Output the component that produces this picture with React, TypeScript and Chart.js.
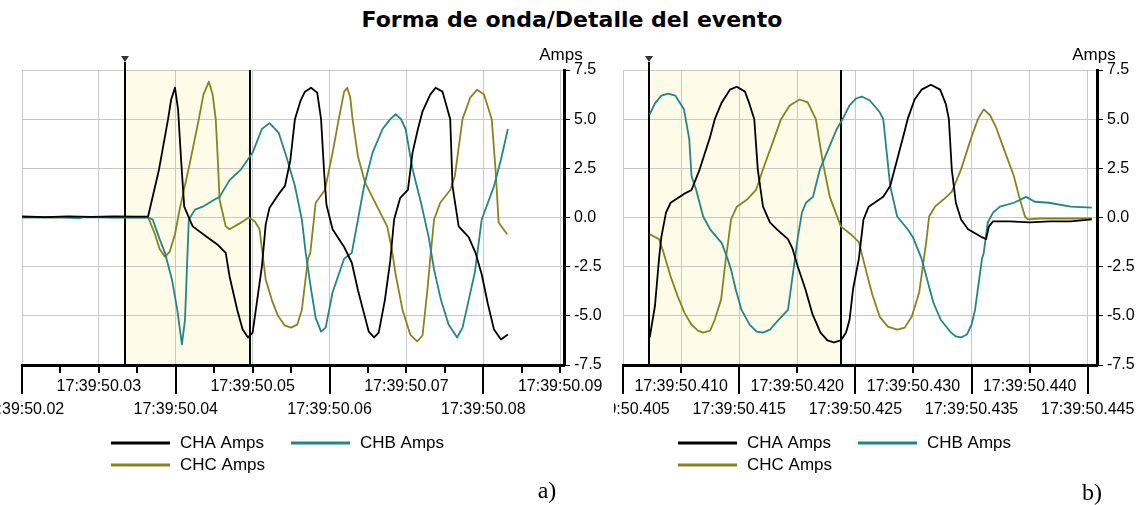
import React, { useEffect, useRef } from "react";
import { Chart, registerables } from "chart.js";
Chart.register(...registerables);

// ---------- data: [ms after 17:39:50.000, amps] ----------
const CHA_A: [number, number][] = [
  [20, 0.05], [23, 0.02], [26, 0.06], [29, 0.03], [32, 0.05], [35, 0.04], [36.4, 0.05], [37.8, 2.4], [39.0, 5.0], [39.4, 6.0],
  [39.9, 6.6], [40.3, 5.5], [40.7, 2.9], [41.1, 0.55], [42.2, -0.45], [44.1, -1.0], [45.5, -1.4], [46.5, -1.8], [47.0, -3.0],
  [48.0, -4.7], [48.7, -5.7], [49.4, -6.1], [50.0, -5.85], [51.2, -2.5], [51.7, -0.35], [52.2, 0.5], [53.4, 1.2], [54.2, 1.6],
  [54.9, 2.9], [55.5, 5.0], [56.2, 5.9], [56.8, 6.4], [57.6, 6.6], [58.4, 6.35], [58.9, 5.0], [59.3, 2.3], [59.6, 0.65],
  [60.4, -0.6], [61.9, -1.5], [62.9, -2.3], [63.7, -3.7], [64.5, -4.9], [65.1, -5.8], [65.8, -6.1], [66.4, -5.85], [67.2, -4.2],
  [67.9, -2.2], [68.4, -0.1], [69.2, 1.0], [70.2, 1.4], [70.8, 3.3], [71.5, 4.5], [72.1, 5.4], [73.1, 6.25], [73.8, 6.6],
  [74.7, 6.4], [75.7, 5.0], [76.0, 1.6], [76.8, -0.45], [78.1, -1.0], [79.0, -1.8], [79.8, -2.9], [80.6, -4.4], [81.4, -5.7],
  [82.3, -6.2], [83.2, -5.95],
];
const CHB_A: [number, number][] = [
  [20, 0.0], [24, 0.02], [27.5, -0.03], [28, 0.02], [32, 0.0], [36.4, 0.0], [37.0, -0.1], [37.9, -1.1], [38.6, -1.8],
  [39.5, -3.15], [40.2, -4.7], [40.8, -6.45], [41.2, -5.2], [41.5, -2.1], [41.7, -0.1], [42.5, 0.4], [43.5, 0.55], [45.0, 0.9],
  [45.7, 1.05], [47.0, 1.9], [48.5, 2.45], [50.0, 3.3], [51.2, 4.5], [52.2, 4.8], [53.4, 4.3], [54.5, 2.95], [55.5, 1.6],
  [56.4, -0.1], [56.9, -1.8], [57.6, -3.65], [58.2, -5.1], [58.9, -5.8], [59.5, -5.6], [60.4, -3.8], [61.9, -2.1], [62.9, -1.8],
  [63.7, -0.1], [64.5, 1.6], [65.6, 3.3], [66.9, 4.5], [67.9, 5.0], [68.6, 5.25], [69.3, 5.0], [69.9, 4.5], [70.8, 2.45],
  [71.9, 0.75], [72.9, -1.0], [73.6, -2.65], [74.5, -4.2], [75.5, -5.45], [76.6, -6.1], [77.3, -5.6], [78.1, -4.2], [78.9, -2.8],
  [79.8, -0.1], [81.4, 1.6], [82.3, 2.95], [83.2, 4.5],
];
const CHC_A: [number, number][] = [
  [20, 0.02], [24, 0.0], [28, 0.03], [32, 0.01], [36.4, 0.02], [37.3, -0.85], [37.9, -1.6], [38.6, -2.0], [39.2, -1.75],
  [39.9, -0.85], [40.5, 0.4], [41.8, 2.7], [43.0, 5.0], [43.6, 6.25], [44.3, 6.9], [44.8, 6.25], [45.2, 5.0], [45.5, 2.7],
  [45.7, 0.9], [46.5, -0.45], [47.0, -0.6], [48.3, -0.3], [49.5, 0.0], [50.3, -0.2], [50.9, -0.6], [51.7, -3.15], [52.5, -4.2],
  [53.3, -5.0], [54.2, -5.5], [55.0, -5.6], [55.8, -5.45], [56.4, -4.7], [57.2, -2.1], [57.5, -1.8], [58.2, 0.75], [59.4, 1.4],
  [60.4, 3.3], [61.2, 5.0], [61.9, 6.4], [62.3, 6.6], [62.7, 6.1], [63.0, 5.0], [63.7, 3.1], [64.6, 1.8], [66.2, 0.55],
  [67.5, -0.45], [68.1, -1.6], [68.6, -2.9], [69.5, -4.7], [70.5, -5.95], [71.4, -6.3], [72.1, -6.0], [72.7, -3.8], [73.1, -2.1],
  [73.6, -0.1], [74.4, 0.75], [75.7, 1.4], [76.3, 2.1], [77.3, 5.0], [78.3, 6.1], [79.2, 6.5], [80.1, 6.25], [81.1, 5.0],
  [81.6, 2.4], [82.0, -0.25], [83.1, -0.85],
];

const CHA_B: [number, number][] = [
  [407.3, -6.1], [407.75, -4.5], [408.1, -2.1], [408.3, -1.0], [408.7, 0.25], [409.1, 0.75], [410.25, 1.2], [410.9, 1.4],
  [411.6, 2.45], [412.5, 4.1], [412.9, 5.0], [413.5, 5.85], [414.2, 6.5], [414.8, 6.65], [415.5, 6.4], [415.9, 5.75], [416.3, 5.0],
  [416.6, 2.45], [417.05, 0.55], [417.65, -0.25], [418.25, -0.6], [419.2, -1.1], [419.6, -1.6], [420.05, -2.5], [420.7, -3.65],
  [421.3, -4.9], [422.0, -5.85], [422.6, -6.25], [423.15, -6.35], [423.75, -6.25], [424.2, -5.85], [424.5, -5.2], [424.8, -3.65],
  [425.3, -2.1], [425.7, -0.1], [426.15, 0.55], [427.4, 1.05], [428.0, 1.6], [428.6, 2.95], [429.2, 4.3], [429.5, 5.0],
  [430.1, 6.0], [430.7, 6.5], [431.5, 6.75], [432.3, 6.5], [432.8, 5.75], [433.05, 5.0], [433.3, 2.45], [433.65, 0.75],
  [434.1, -0.1], [434.7, -0.6], [435.9, -1.0], [436.25, -1.1], [436.5, -0.45], [436.85, -0.2], [438.3, -0.2], [440.0, -0.25],
  [441.75, -0.2], [443.55, -0.2], [445.35, -0.1],
];
const CHB_B: [number, number][] = [
  [407.3, 5.25], [407.75, 5.8], [408.3, 6.2], [408.9, 6.3], [409.5, 6.2], [410.25, 5.5], [410.7, 4.0], [410.9, 2.1], [411.3, 1.4],
  [411.9, 0.05], [412.5, -0.6], [413.5, -1.3], [414.0, -2.1], [414.3, -2.65], [414.7, -3.65], [415.2, -4.7], [415.9, -5.45],
  [416.5, -5.8], [417.05, -5.85], [417.65, -5.7], [418.25, -5.3], [419.2, -4.7], [419.8, -2.1], [420.05, -1.0], [420.4, 0.25],
  [420.75, 0.75], [421.35, 1.05], [421.95, 2.45], [422.55, 3.3], [423.4, 4.5], [423.9, 5.0], [424.5, 5.7], [425.05, 6.05],
  [425.55, 6.15], [426.25, 5.95], [427.1, 5.35], [427.4, 5.0], [427.7, 3.3], [428.0, 1.6], [428.6, 0.05], [429.5, -0.6],
  [429.95, -1.0], [430.5, -1.8], [430.7, -2.1], [431.7, -4.3], [432.35, -5.2], [433.15, -5.8], [433.65, -6.05], [434.1, -6.1],
  [434.6, -5.95], [435.0, -5.45], [435.3, -4.7], [435.9, -2.1], [436.05, -1.8], [436.4, -0.25], [436.85, 0.25], [437.45, 0.55],
  [438.65, 0.75], [439.7, 1.05], [440.45, 0.8], [441.65, 0.75], [443.55, 0.55], [445.35, 0.5],
];
const CHC_B: [number, number][] = [
  [407.3, -0.85], [408.1, -1.1], [408.5, -1.8], [409.1, -3.0], [409.7, -4.0], [410.3, -4.85], [410.9, -5.45], [411.45, -5.75],
  [411.9, -5.85], [412.5, -5.75], [412.9, -5.2], [413.45, -4.15], [413.85, -2.1], [414.05, -1.25], [414.3, -0.1], [414.8, 0.55],
  [415.65, 0.9], [416.45, 1.4], [417.05, 2.45], [418.0, 4.0], [418.6, 5.0], [419.35, 5.7], [420.2, 6.0], [420.9, 5.85],
  [421.6, 5.0], [422.2, 2.8], [422.8, 1.05], [423.75, -0.45], [424.6, -0.85], [425.3, -1.25], [425.9, -2.65], [426.45, -3.9],
  [427.1, -5.05], [427.8, -5.55], [428.6, -5.7], [429.25, -5.6], [429.85, -5.05], [430.5, -3.8], [430.9, -2.1], [431.1, -1.25],
  [431.35, 0.05], [431.85, 0.55], [432.55, 0.9], [433.3, 1.3], [434.1, 2.45], [435.0, 4.1], [435.55, 5.0], [436.05, 5.5],
  [436.6, 5.2], [437.1, 4.6], [437.9, 3.3], [438.65, 2.1], [439.1, 1.05], [439.6, 0.05], [439.85, -0.1], [440.9, -0.05],
  [442.6, -0.05], [444.3, -0.05], [445.35, -0.05],
];

const SERIES_NAMES = ["CHA Amps", "CHB Amps", "CHC Amps"];
const SERIES_COLORS = ["#000000", "#238585", "#85851f"];

// tick label positions (ms) and texts
const LABEL_VALUES_A = [20, 30, 40, 50, 60, 70, 80, 90];
const LABELS_A = ["17:39:50.02", "17:39:50.03", "17:39:50.04", "17:39:50.05", "17:39:50.06", "17:39:50.07", "17:39:50.08", "17:39:50.09"];
const MINOR_TICKS_A = [25, 35, 45, 55, 65, 75, 85];
const LABEL_VALUES_B = [405, 410, 415, 420, 425, 430, 435, 440, 445];
const LABELS_B = ["17:39:50.405", "17:39:50.410", "17:39:50.415", "17:39:50.420", "17:39:50.425", "17:39:50.430", "17:39:50.435", "17:39:50.440", "17:39:50.445"];
const MINOR_TICKS_B: number[] = [];

const CURSORS_A = [33.4, 49.7];
const CURSORS_B = [407.2, 423.8];

const FONT = '"Liberation Sans", Arial, sans-serif';

type PanelCfg = {
  left: number; width: number; padLeft: number; yAxisW: number; xAxisH: number; top: number;
  xMin: number; xMax: number; step: number;
  series: [number, number][][]; cursors: number[];
  labelValues: number[]; labels: string[]; minor: number[]; legendX: number;
};

function makePlugin(cfg: PanelCfg) {
  return {
    id: "panelDecor",
    beforeDraw(chart: any) {
      const { ctx, chartArea: ca, scales } = chart;
      const x1 = scales.x.getPixelForValue(cfg.cursors[0]);
      const x2 = scales.x.getPixelForValue(cfg.cursors[1]);
      ctx.save();
      ctx.fillStyle = "#fefbe9";
      ctx.fillRect(x1, ca.top, x2 - x1, ca.bottom - ca.top);
      ctx.restore();
    },
    beforeDatasetsDraw(chart: any) {
      const { ctx, chartArea: ca, scales } = chart;
      const x1 = Math.round(scales.x.getPixelForValue(cfg.cursors[0]));
      const x2 = Math.round(scales.x.getPixelForValue(cfg.cursors[1]));
      ctx.save();
      ctx.strokeStyle = "#000";
      ctx.lineWidth = 2;
      ctx.beginPath();
      ctx.moveTo(x1, ca.top - 8);
      ctx.lineTo(x1, ca.bottom);
      ctx.moveTo(x2, ca.top);
      ctx.lineTo(x2, ca.bottom);
      ctx.stroke();
      ctx.fillStyle = "#333";
      ctx.beginPath();
      ctx.moveTo(x1 - 4, ca.top - 14);
      ctx.lineTo(x1 + 4, ca.top - 14);
      ctx.lineTo(x1, ca.top - 8);
      ctx.closePath();
      ctx.fill();
      ctx.restore();
    },
    afterDraw(chart: any) {
      const { ctx, chartArea: ca, scales } = chart;
      const xs = scales.x;
      const b = ca.bottom;
      ctx.save();
      ctx.strokeStyle = "#000";
      ctx.lineWidth = 2;
      const shortT: number[] = [...cfg.minor];
      const longT: number[] = [];
      cfg.labelValues.forEach((v, i) => (i % 2 === 0 ? longT : shortT).push(v));
      ctx.beginPath();
      shortT.forEach((v) => {
        const x = Math.round(xs.getPixelForValue(v));
        ctx.moveTo(x, b);
        ctx.lineTo(x, b + 8);
      });
      longT.forEach((v) => {
        const x = Math.round(xs.getPixelForValue(v));
        ctx.moveTo(x, b);
        ctx.lineTo(x, b + 29);
      });
      ctx.stroke();
      ctx.fillStyle = "#000";
      ctx.font = `16px ${FONT}`;
      ctx.textAlign = "center";
      ctx.textBaseline = "middle";
      cfg.labelValues.forEach((v, i) => {
        const x = xs.getPixelForValue(v);
        const y = i % 2 === 0 ? b + 45 : b + 22;
        ctx.fillText(cfg.labels[i], x, y);
      });
      // Amps
      ctx.font = `17px ${FONT}`;
      ctx.fillText("Amps", ca.right - 3, ca.top - 15);
      // legend
      const pos = [[0, 0], [1, 0], [0, 1]];
      chart.data.datasets.forEach((ds: any, i: number) => {
        const lx = cfg.legendX + pos[i][0] * 180;
        const ly = 443 + pos[i][1] * 22;
        ctx.strokeStyle = ds.borderColor;
        ctx.lineWidth = 3;
        ctx.beginPath();
        ctx.moveTo(lx, ly);
        ctx.lineTo(lx + 59, ly);
        ctx.stroke();
        ctx.textAlign = "left";
        ctx.font = `17px ${FONT}`;
        ctx.fillText(ds.label, lx + 69, ly);
      });
      ctx.restore();
    },
  };
}

function Panel({ cfg }: { cfg: PanelCfg }) {
  const ref = useRef<HTMLCanvasElement | null>(null);
  useEffect(() => {
    if (!ref.current) return;
    const chart = new Chart(ref.current, {
      type: "line",
      data: {
        datasets: cfg.series.map((s, i) => ({
          label: SERIES_NAMES[i],
          data: s.map(([t, v]) => ({ x: t, y: v })),
          borderColor: SERIES_COLORS[i],
          backgroundColor: SERIES_COLORS[i],
          borderWidth: 1.8,
          borderJoinStyle: "round",
          pointRadius: 0,
          tension: 0,
          fill: false,
        })),
      },
      options: {
        animation: false,
        responsive: false,
        devicePixelRatio: 1,
        layout: { padding: { left: cfg.padLeft, top: cfg.top, right: 0, bottom: 0 } },
        plugins: { legend: { display: false }, tooltip: { enabled: false }, title: { display: false } },
        scales: {
          x: {
            type: "linear",
            position: "bottom",
            min: cfg.xMin,
            max: cfg.xMax,
            ticks: { display: false, stepSize: cfg.step, includeBounds: false },
            grid: { color: "#c8c8c8", drawTicks: false, lineWidth: 1 },
            border: { color: "#000", width: 3 },
            afterFit: (s: any) => { s.height = cfg.xAxisH; },
          },
          y: {
            type: "linear",
            position: "right",
            min: -7.5,
            max: 7.5,
            ticks: {
              stepSize: 2.5,
              color: "#000",
              padding: 4,
              font: { family: FONT, size: 16 },
              callback: (v: any) => Number(v).toFixed(1),
            },
            grid: { color: "#c8c8c8", tickColor: "#000", tickLength: 6, lineWidth: 1 },
            border: { color: "#000", width: 3 },
            afterFit: (s: any) => { s.width = cfg.yAxisW; },
          },
        },
      } as any,
      plugins: [makePlugin(cfg)],
    });
    return () => chart.destroy();
  }, []);
  return (
    <canvas
      ref={ref}
      width={cfg.width}
      height={505}
      style={{ position: "absolute", left: cfg.left, top: 0, width: cfg.width, height: 505 }}
    />
  );
}

const PANEL_A: PanelCfg = {
  left: 0, width: 614, padLeft: 22, yAxisW: 50, xAxisH: 140, top: 70,
  xMin: 20, xMax: 90.5, step: 10,
  series: [CHA_A, CHB_A, CHC_A], cursors: CURSORS_A,
  labelValues: LABEL_VALUES_A, labels: LABELS_A, minor: MINOR_TICKS_A, legendX: 111,
};
const PANEL_B: PanelCfg = {
  left: 614, width: 530, padLeft: 9, yAxisW: 47, xAxisH: 140, top: 70,
  xMin: 405, xMax: 445.8, step: 5,
  series: [CHA_B, CHB_B, CHC_B], cursors: CURSORS_B,
  labelValues: LABEL_VALUES_B, labels: LABELS_B, minor: MINOR_TICKS_B, legendX: 678 - 614,
};

export default function App() {
  return (
    <div style={{ position: "fixed", left: 0, top: 0, width: 1144, height: 505, background: "#fff", overflow: "hidden" }}>
      <div
        style={{
          position: "absolute", left: 572, top: 19, transform: "translate(-50%, -50%)",
          font: 'bold 22px "DejaVu Sans", Verdana, sans-serif', whiteSpace: "nowrap", color: "#000",
        }}
      >
        Forma de onda/Detalle del evento
      </div>
      <Panel cfg={PANEL_A} />
      <Panel cfg={PANEL_B} />
      <div style={{ position: "absolute", left: 547, top: 490, transform: "translate(-50%, -50%)", font: '24px "Liberation Serif", serif' }}>a)</div>
      <div style={{ position: "absolute", left: 1092, top: 492, transform: "translate(-50%, -50%)", font: '24px "Liberation Serif", serif' }}>b)</div>
    </div>
  );
}
